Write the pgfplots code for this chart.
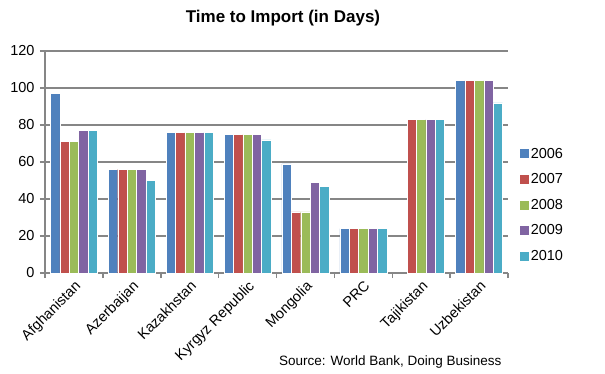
\documentclass[border=0pt]{standalone}
\usepackage{fontspec}
\setmainfont{Liberation Sans}
\usepackage{pgfplots}
\pgfplotsset{compat=1.18}

\definecolor{c2006}{RGB}{79,129,189}
\definecolor{c2007}{RGB}{192,80,77}
\definecolor{c2008}{RGB}{155,187,89}
\definecolor{c2009}{RGB}{128,100,162}
\definecolor{c2010}{RGB}{75,172,198}
\definecolor{gridgray}{RGB}{134,134,134}

\begin{document}
\begin{tikzpicture}
\path[use as bounding box] (0,0) rectangle (605bp,374bp);
\begin{axis}[
  at={(45bp,101bp)}, anchor=south west,
  scale only axis, width=463bp, height=222bp,
  ybar=0pt, bar width=9.4bp,
  xmin=-0.5, xmax=7.5, ymin=0, ymax=120,
  ytick={0,20,...,120},
  xtick={0,...,7},
  xticklabels={Afghanistan,Azerbaijan,Kazakhstan,Kyrgyz Republic,Mongolia,PRC,Tajikistan,Uzbekistan},
  minor xtick={-0.5,0.5,...,7.5},
  major x tick style={draw=none},
  tick align=outside,
  tick style={gridgray, line width=1.5bp},
  minor tick length=5bp, major tick length=5bp,
  axis x line*=bottom, axis y line*=left,
  axis line style={gridgray, line width=1.5bp, -},
  ymajorgrids, grid style={gridgray, line width=1.5bp},
  /pgf/number format/assume math mode=true,
  tick label style={font=\fontsize{14.5bp}{16bp}\selectfont, text=black},
  yticklabel style={xshift=-2bp},
  xticklabel style={rotate=45, anchor=north east, inner sep=1bp},
  legend style={at={(1.025,0.306)}, anchor=west, draw=none, fill=none,
    font=\fontsize{14.5bp}{16bp}\selectfont, row sep=10bp, inner sep=0pt},
  legend cell align=left,
  legend image code/.code={\fill[#1,draw=none] (0bp,-4.5bp) rectangle (9bp,4.5bp);},
  every axis plot/.append style={draw=white, line width=0.4bp},
  clip=false,
]
\addplot[fill=c2006] coordinates {(0,97) (1,56) (2,76) (3,75) (4,59) (5,24) (7,104)};
\addplot[fill=c2007] coordinates {(0,71) (1,56) (2,76) (3,75) (4,33) (5,24) (6,83) (7,104)};
\addplot[fill=c2008] coordinates {(0,71) (1,56) (2,76) (3,75) (4,33) (5,24) (6,83) (7,104)};
\addplot[fill=c2009] coordinates {(0,77) (1,56) (2,76) (3,75) (4,49) (5,24) (6,83) (7,104)};
\addplot[fill=c2010] coordinates {(0,77) (1,50) (2,76) (3,72) (4,47) (5,24) (6,83) (7,92)};
\legend{2006,2007,2008,2009,2010}
\node[font=\bfseries\fontsize{17bp}{20bp}\selectfont] at (rel axis cs:0.514,1.149) {Time to Import (in Days)};
\node[anchor=east, font=\fontsize{13.5bp}{15bp}\selectfont] at (rel axis cs:0.9935,-0.401) {Source: World Bank, Doing Business};
\end{axis}
\end{tikzpicture}
\end{document}
